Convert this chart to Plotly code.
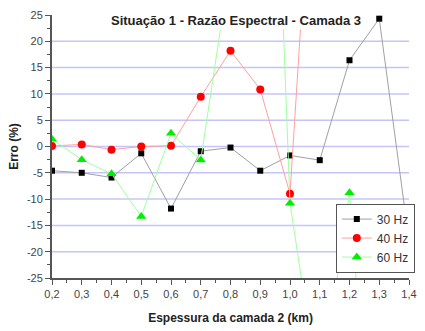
import plotly.graph_objects as go

# Camada 2 thickness (km)
espessura = [0.2, 0.3, 0.4, 0.5, 0.6, 0.7, 0.8, 0.9, 1.0, 1.1, 1.2, 1.3, 1.4]

# Relative error (%) for each frequency
erro_30hz = [-4.6, -5.0, -5.9, -1.3, -11.8, -0.9, -0.2, -4.6, -1.7, -2.6, 16.4, 24.3, -17.9]
espessura_40 = [0.2, 0.3, 0.4, 0.5, 0.6, 0.7, 0.8, 0.9, 1.0, 1.1]
erro_40hz = [0.1, 0.4, -0.6, 0.0, 0.15, 9.45, 18.2, 10.85, -9.0, 80.0]
espessura_60 = [0.2, 0.3, 0.4, 0.5, 0.6, 0.7, 0.8, 0.9, 1.0, 1.1, 1.2, 1.3]
erro_60hz = [1.4, -2.5, -5.2, -13.3, 2.5, -2.55, 35.0, 138.0, -10.8, -48.0, -8.8, -82.0]

x_ticks = [0.2, 0.3, 0.4, 0.5, 0.6, 0.7, 0.8, 0.9, 1.0, 1.1, 1.2, 1.3, 1.4]
x_labels = ["0,2", "0,3", "0,4", "0,5", "0,6", "0,7", "0,8", "0,9", "1,0", "1,1", "1,2", "1,3", "1,4"]
y_ticks = [-25, -20, -15, -10, -5, 0, 5, 10, 15, 20, 25]
y_labels = ["-25", "-20", "-15", "-10", "-5", "0", "5", "10", "15", "20", "25"]

fig = go.Figure()
fig.add_trace(go.Scatter(
    x=espessura, y=erro_30hz, mode="lines+markers", name="30 Hz",
    line=dict(color="#a0a0a0", width=1),
    marker=dict(symbol="square", size=6, color="black"),
))
fig.add_trace(go.Scatter(
    x=espessura_40, y=erro_40hz, mode="lines+markers", name="40 Hz",
    line=dict(color="#ffa0a0", width=1),
    marker=dict(symbol="circle", size=8, color="#ff0000"),
))
fig.add_trace(go.Scatter(
    x=espessura_60, y=erro_60hz, mode="lines+markers", name="60 Hz",
    line=dict(color="#a0ffa0", width=1),
    marker=dict(symbol="triangle-up", size=9, color="#00ee00"),
))

# Horizontal grid lines at the interior major ticks only
for v in y_ticks[1:-1]:
    fig.add_shape(type="line", xref="paper", yref="y", x0=0, x1=1, y0=v, y1=v,
                  line=dict(color="#c4c4fa", width=1.5), layer="below")

axis_font = dict(family="Liberation Sans, Arial, sans-serif", size=11, color="#444444")

fig.update_layout(
    width=425, height=331,
    margin=dict(l=52, r=8, t=15, b=45),
    paper_bgcolor="white", plot_bgcolor="white",
    font=dict(family="Liberation Sans, Arial, sans-serif"),
    xaxis=dict(
        range=[0.2, 1.4], tickvals=x_ticks, ticktext=x_labels,
        showgrid=False, zeroline=False,
        showline=True, linecolor="#555555", linewidth=2,
        ticks="outside", ticklen=5, tickcolor="#555555", tickwidth=1,
        minor=dict(ticks="outside", ticklen=3, tickcolor="#555555", dtick=0.05),
        tickfont=axis_font,
        title=dict(text="<b>Espessura da camada 2 (km)</b>",
                   font=dict(size=12, color="#222222"), standoff=14),
    ),
    yaxis=dict(
        range=[-25, 25], tickvals=y_ticks, ticktext=y_labels,
        showgrid=False, zeroline=False,
        showline=True, linecolor="#555555", linewidth=2,
        ticks="outside", ticklen=5, tickcolor="#555555", tickwidth=1,
        minor=dict(ticks="outside", ticklen=3, tickcolor="#555555", dtick=2.5, showgrid=False),
        tickfont=axis_font,
        title=dict(text="<b>Erro (%)</b>", font=dict(size=12, color="#222222"), standoff=6),
    ),
    legend=dict(
        x=0.795, y=0.283, xanchor="left", yanchor="top",
        bgcolor="white", bordercolor="#555555", borderwidth=1,
        font=dict(size=12, color="#333333"),
        tracegroupgap=0, itemwidth=30,
    ),
    annotations=[dict(
        text="<b>Situação 1 - Razão Espectral - Camada 3</b>",
        xref="paper", yref="paper", x=0.515, y=1.015,
        xanchor="center", yanchor="top", showarrow=False,
        bgcolor="white", borderpad=1, font=dict(size=13, color="#222222"),
    )],
)

fig.write_html("out.html")
